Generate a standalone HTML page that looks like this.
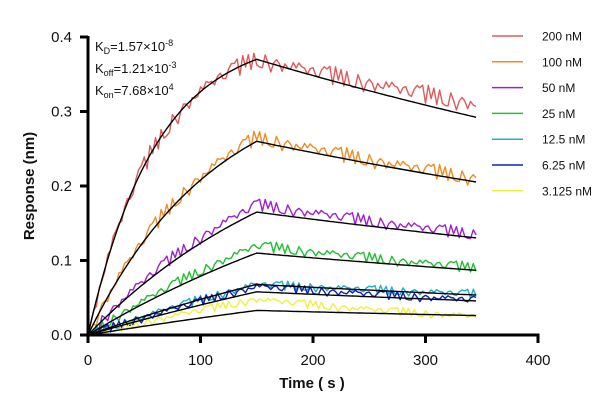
<!DOCTYPE html>
<html><head><meta charset="utf-8"><style>
body{margin:0;background:#fff;}
svg{display:block;font-family:"Liberation Sans",Arial,sans-serif;}
</style></head><body>
<svg width="615" height="412" viewBox="0 0 615 412">
<g id="plot"></g>
<g id="axes"></g>
<g id="legend"></g>
<g font-size="13" fill="#111">
<text x="95" y="51">K<tspan font-size="9" dy="3">D</tspan><tspan dy="-3">=1.57×10</tspan><tspan font-size="9" dy="-5">-8</tspan></text>
<text x="95" y="73">K<tspan font-size="9" dy="3">off</tspan><tspan dy="-3">=1.21×10</tspan><tspan font-size="9" dy="-5">-3</tspan></text>
<text x="95" y="95">K<tspan font-size="9" dy="3">on</tspan><tspan dy="-3">=7.68×10</tspan><tspan font-size="9" dy="-5">4</tspan></text>
</g>
</svg>
<script>
const concLabels=["200 nM","100 nM","50 nM","25 nM","12.5 nM","6.25 nM","3.125 nM"];
const concNM=[200,100,50,25,12.5,6.25,3.125];
const colors=["#e05a5a","#f08c20","#a020d0","#20c030","#20b0c8","#1020b0","#f0f040"];
const fitPeak=[0.37,0.26,0.165,0.11,0.068,0.058,0.033];
const obsPeak=[0.37,0.265,0.175,0.12,0.068,0.065,0.048];
const obsEnd=[0.31,0.21,0.135,0.09,0.055,0.047,0.025];
const kon=7.68e4, koff=1.21e-3;
const tAssoc=150, tEnd=345;
const xTicks=[0,100,200,300,400];
const yTicks=["0.0","0.1","0.2","0.3","0.4"];
const NS="http://www.w3.org/2000/svg";
const X=t=>88+t*450/400;
const Y=v=>335-v*745;
function mk(tag,attrs,parent){const e=document.createElementNS(NS,tag);for(const k in attrs)e.setAttribute(k,attrs[k]);parent.appendChild(e);return e;}
const plot=document.getElementById('plot'),axes=document.getElementById('axes'),legend=document.getElementById('legend');
const wig=[0,0.7,-0.2,1.0,0.3,-0.9,-0.4,0.5,1.1,-0.3,-1.0,0.2,0.8,-0.6,0.1,-1.1,0.6,0.9,-0.5,-0.1,0.4,-0.8,1.2,0.0,-0.7,0.3,-1.2,0.9,0.2,-0.4,0.7,-0.9,0.5];
concNM.forEach((c,i)=>{
  const k=kon*c*1e-9+koff;
  const scale=1/(1-Math.exp(-k*tAssoc));
  let d="";const amp=0.004+obsPeak[i]*0.018;
  const kd=-Math.log(obsEnd[i]/obsPeak[i])/(tEnd-tAssoc);
  for(let t=0,j=0;t<=tEnd;t+=2.5,j++){
    let v=t<=tAssoc?obsPeak[i]*scale*(1-Math.exp(-k*t)):obsPeak[i]*Math.exp(-kd*(t-tAssoc));
    if(t>3)v+=amp*wig[(j*7+i*5)%wig.length];
    d+=(t===0?"M":"L")+X(t).toFixed(1)+","+Y(v).toFixed(1);
  }
  const p=mk('path',{d:d,fill:"none",stroke:colors[i],"stroke-width":1.4,"stroke-linejoin":"round"},plot);
  
  
});
concNM.forEach((c,i)=>{
  const k=kon*c*1e-9+koff;
  const scale=1/(1-Math.exp(-k*tAssoc));
  let d="";
  for(let t=0;t<=tEnd;t+=2.5){
    const v=t<=tAssoc?fitPeak[i]*scale*(1-Math.exp(-k*t)):fitPeak[i]*Math.exp(-koff*(t-tAssoc));
    d+=(t===0?"M":"L")+X(t).toFixed(1)+","+Y(v).toFixed(1);
  }
  const p=mk('path',{d:d,fill:"none",stroke:"#000","stroke-width":1.4},plot);
  
  
});
const ax=mk('path',{d:`M${X(0)},${Y(0.4)-1}V${Y(0)}H${X(400)+1.5}`,fill:"none",stroke:"#000","stroke-width":3},axes);


xTicks.forEach(t=>{
  mk('line',{x1:X(t),x2:X(t),y1:Y(0),y2:Y(0)+8,stroke:"#000","stroke-width":3},axes);
  const tx=mk('text',{x:X(t),y:365,"text-anchor":"middle","font-size":15,fill:"#111"},axes);
  tx.textContent=t;
  
  
});
yTicks.forEach(s=>{
  const v=parseFloat(s);
  mk('line',{x1:X(0)-8,x2:X(0),y1:Y(v),y2:Y(v),stroke:"#000","stroke-width":3},axes);
  const tx=mk('text',{x:72,y:Y(v)+5,"text-anchor":"end","font-size":15,fill:"#111"},axes);
  tx.textContent=s;
  
  
});
const xt=mk('text',{x:312,y:388,"text-anchor":"middle","font-size":15,"font-weight":"bold",fill:"#111"},axes);
xt.textContent="Time ( s )";


const yt=mk('text',{x:0,y:0,"text-anchor":"middle","font-size":15,"font-weight":"bold",fill:"#111",transform:"translate(34,186) rotate(-90)"},axes);
yt.textContent="Response (nm)";


concLabels.forEach((l,i)=>{
  const y=36+i*25.8;
  const g=mk('g',{},legend);
  
  
  mk('line',{x1:492,x2:523,y1:y,y2:y,stroke:colors[i],"stroke-width":1.5},g);
  const t=mk('text',{x:542,y:y+4.5,"font-size":12,fill:"#111"},g);
  t.textContent=l;
});
</script>
</body></html>
